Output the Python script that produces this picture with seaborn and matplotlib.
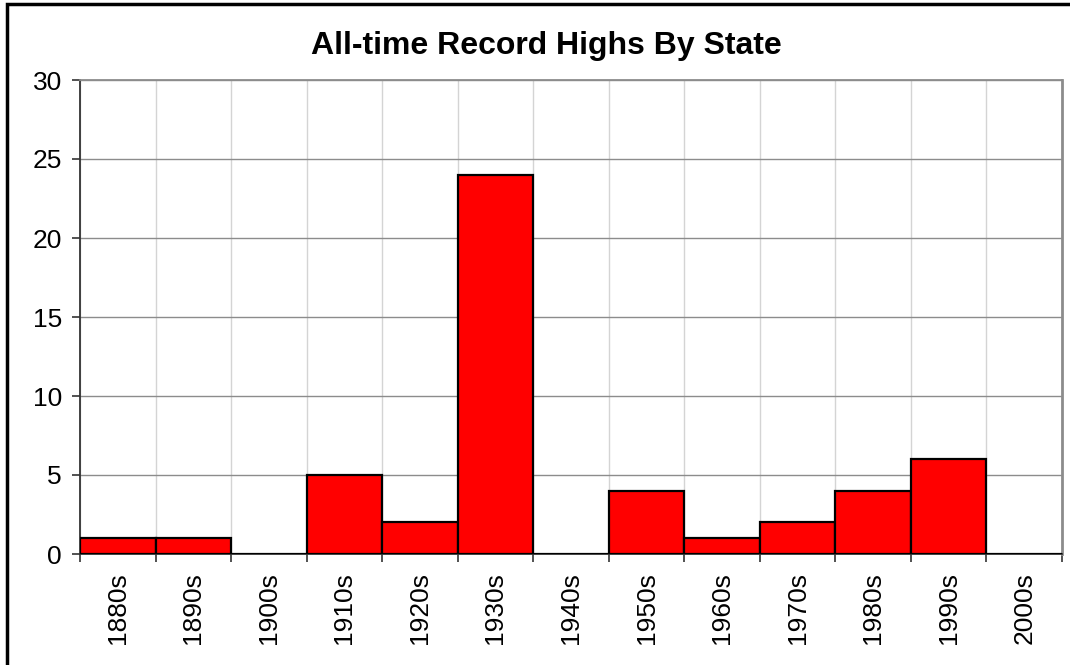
import matplotlib
matplotlib.use("Agg")
import matplotlib.pyplot as plt
import seaborn as sns
import pandas as pd
import numpy as np
from matplotlib.patches import Rectangle

decades = ["1880s", "1890s", "1900s", "1910s", "1920s", "1930s", "1940s",
           "1950s", "1960s", "1970s", "1980s", "1990s", "2000s"]
counts = [1, 1, 0, 5, 2, 24, 0, 4, 1, 2, 4, 6, 0]
yticks = [0, 5, 10, 15, 20, 25, 30]
title = "All-time Record Highs By State"

sns.set_theme(style="white")
plt.rcParams['font.family'] = ['Liberation Sans', 'DejaVu Sans']

df = pd.DataFrame({"decade": decades, "count": counts})

fig = plt.figure(figsize=(10.7, 6.65), dpi=100)
ax = fig.add_axes([80/1070, 1-554/665, (1062-80)/1070, (554-80)/665])

sns.barplot(data=df, x="decade", y="count", ax=ax, color="#ff0000",
            saturation=1, width=1.0, edgecolor="black", linewidth=1.6, zorder=3)

n = len(decades)
ax.set_xlim(-0.5, n - 0.5)
ax.set_ylim(0, 30)
ax.set_yticks(yticks)
ax.set_xticks(np.arange(-0.5, n, 1.0), minor=True)
ax.set_xlabel("")
ax.set_ylabel("")

ax.grid(False)
ax.yaxis.grid(True, color="#8c8c8c", linewidth=1.0, zorder=0)
ax.xaxis.grid(True, which="minor", color="#d4d4d4", linewidth=1.0, zorder=0)
ax.set_axisbelow(True)

ax.tick_params(axis="x", which="major", length=0, pad=13, labelsize=19,
               labelrotation=90, colors="black")
ax.tick_params(axis="x", which="minor", length=6, width=1.2, color="#333333",
               direction="out", bottom=True)
ax.tick_params(axis="y", which="major", length=6, width=1.2, color="#333333",
               direction="out", left=True, pad=7, labelsize=19, labelcolor="black")
for lab in ax.get_xticklabels():
    lab.set_verticalalignment("top")

for side in ["left", "bottom"]:
    ax.spines[side].set_color("#333333")
    ax.spines[side].set_linewidth(1.3)
for side in ["top", "right"]:
    ax.spines[side].set_visible(True)
    ax.spines[side].set_color("#8c8c8c")
    ax.spines[side].set_linewidth(1.3)
ax.spines["right"].set_linewidth(2.0)

fig.text(546/1070, 1-46/665, title, ha="center", va="center",
         fontsize=23, fontweight="bold", color="black")

fig.patches.append(Rectangle((7/1070, -0.05), 1.1, 1-4/665+0.05,
                             transform=fig.transFigure, fill=False,
                             edgecolor="black", linewidth=2.5))

fig.savefig("out.png", dpi=100)
